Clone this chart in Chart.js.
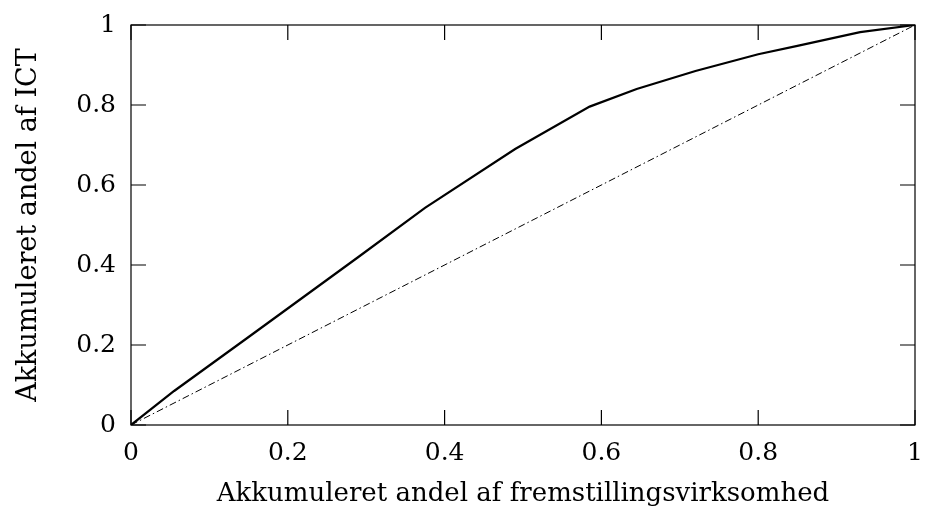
<!DOCTYPE html>
<html>
<head>
<meta charset="utf-8">
<script src="https://cdn.jsdelivr.net/npm/chart.js@4/dist/chart.umd.min.js"></script>
<style>
  body { margin: 0; background: #fff; }
</style>
</head>
<body>
<canvas id="lorenz" width="928" height="512"></canvas>
<script>
// cumulative shares
const shareManufacturing = [0, 0.055, 0.15, 0.29, 0.375, 0.49, 0.585, 0.645, 0.72, 0.80, 0.85, 0.93, 1];
const shareICT = [0, 0.085, 0.22, 0.42, 0.543, 0.69, 0.796, 0.84, 0.885, 0.927, 0.948, 0.982, 1];
const equalityX = [0, 1];
const equalityY = [0, 1];

const xTicks = [0, 0.2, 0.4, 0.6, 0.8, 1];
const yTicks = [0, 0.2, 0.4, 0.6, 0.8, 1];
const xTickLabels = ['0', '0.2', '0.4', '0.6', '0.8', '1'];
const yTickLabels = ['0', '0.2', '0.4', '0.6', '0.8', '1'];

const xTitle = 'Akkumuleret andel af fremstillingsvirksomhed';
const yTitle = 'Akkumuleret andel af ICT';

const FONT = 'DejaVu Serif';
const TICK_LEN = 15;

const toPoints = (xs, ys) => xs.map((v, i) => ({ x: v, y: ys[i] }));

// box round the plot with inward ticks on all four sides
const frame = {
  id: 'frame',
  afterDatasetsDraw(chart) {
    const { ctx, chartArea: a, scales: { x, y } } = chart;
    ctx.save();
    ctx.strokeStyle = '#000';
    ctx.lineWidth = 1.2;
    ctx.strokeRect(a.left, a.top, a.right - a.left, a.bottom - a.top);
    ctx.beginPath();
    xTicks.forEach(v => {
      const px = x.getPixelForValue(v);
      ctx.moveTo(px, a.bottom); ctx.lineTo(px, a.bottom - TICK_LEN);
      ctx.moveTo(px, a.top); ctx.lineTo(px, a.top + TICK_LEN);
    });
    yTicks.forEach(v => {
      const py = y.getPixelForValue(v);
      ctx.moveTo(a.left, py); ctx.lineTo(a.left + TICK_LEN, py);
      ctx.moveTo(a.right, py); ctx.lineTo(a.right - TICK_LEN, py);
    });
    ctx.stroke();
    ctx.restore();
  }
};

new Chart(document.getElementById('lorenz'), {
  type: 'scatter',
  data: {
    datasets: [{
      data: toPoints(shareManufacturing, shareICT),
      showLine: true,
      borderColor: '#000',
      borderWidth: 2.2,
      pointRadius: 0,
      tension: 0
    }, {
      data: toPoints(equalityX, equalityY),
      showLine: true,
      borderColor: '#000',
      borderWidth: 1,
      borderDash: [7, 3, 1.5, 3],
      pointRadius: 0
    }]
  },
  options: {
    responsive: false,
    devicePixelRatio: 1,
    animation: false,
    layout: { padding: { top: 25, right: 13, left: 0, bottom: 0 } },
    plugins: {
      legend: { display: false },
      tooltip: { enabled: false }
    },
    scales: {
      x: {
        type: 'linear',
        min: 0, max: 1,
        grid: { display: false, drawTicks: false },
        border: { display: false },
        afterBuildTicks: s => { s.ticks = xTicks.map(v => ({ value: v })); },
        afterFit: s => { s.height = 87; s.paddingLeft = 0; s.paddingRight = 0; },
        ticks: {
          color: '#000',
          padding: 13,
          maxRotation: 0,
          font: { family: FONT, size: 25 },
          callback: (v, i) => xTickLabels[i]
        },
        title: {
          display: true,
          text: xTitle,
          color: '#000',
          padding: { top: 0, bottom: 2 },
          font: { family: FONT, size: 26 }
        }
      },
      y: {
        type: 'linear',
        min: 0, max: 1,
        grid: { display: false, drawTicks: false },
        border: { display: false },
        afterBuildTicks: s => { s.ticks = yTicks.map(v => ({ value: v })); },
        afterFit: s => { s.width = 131; s.paddingTop = 0; s.paddingBottom = 0; },
        ticks: {
          color: '#000',
          padding: 15,
          font: { family: FONT, size: 25 },
          callback: (v, i) => yTickLabels[i]
        },
        title: {
          display: true,
          text: yTitle,
          color: '#000',
          padding: { top: 13, bottom: 0 },
          font: { family: FONT, size: 27 }
        }
      }
    }
  },
  plugins: [frame]
});
</script>
</body>
</html>
